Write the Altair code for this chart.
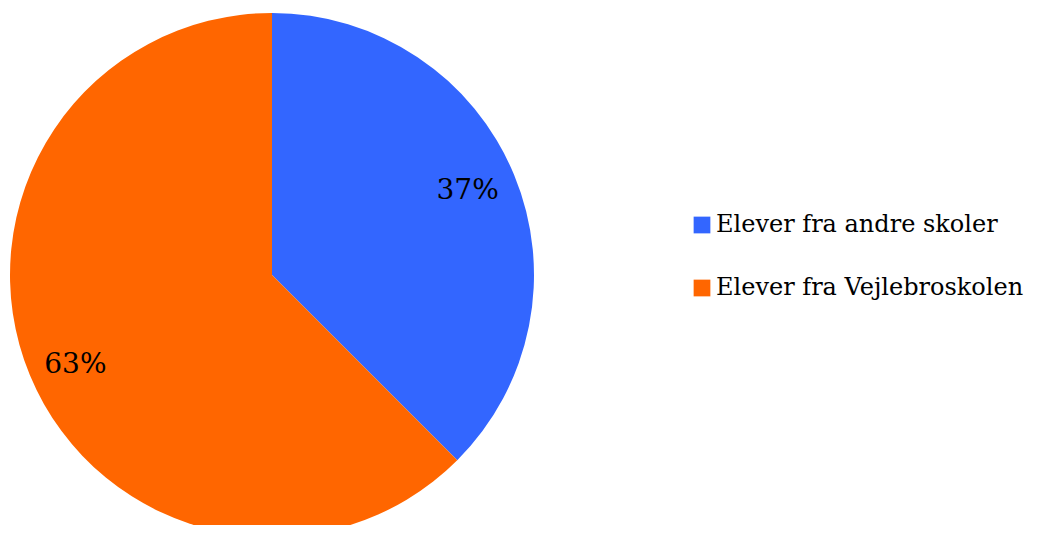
import altair as alt
import pandas as pd

categories = ["Elever fra andre skoler", "Elever fra Vejlebroskolen"]
values = [37.5, 62.5]
labels = ["37%", "63%"]
colors = ["#3366FF", "#FF6600"]

df = pd.DataFrame({"kategori": categories, "andel": values, "label": labels, "idx": [0, 1]})
total = float(sum(values))

cx, cy = 264, 267

arcs = alt.Chart(df).mark_arc(outerRadius=262, stroke=None).encode(
    theta=alt.Theta("andel:Q", stack=True),
    order=alt.Order("idx:Q"),
    x=alt.value(cx),
    y=alt.value(cy),
    color=alt.Color(
        "kategori:N",
        scale=alt.Scale(domain=categories, range=colors),
        legend=alt.Legend(
            title=None,
            orient="none",
            legendX=682,
            legendY=205,
            symbolType="square",
            symbolSize=280,
            symbolStrokeWidth=0,
            symbolOpacity=1,
            labelFont="DejaVu Serif",
            labelFontSize=24,
            labelColor="#000000",
            labelOffset=2,
            rowPadding=39,
            padding=0,
            labelLimit=400,
        ),
    ),
)

text_base = (
    alt.Chart(df)
    .transform_window(cum="sum(andel)", sort=[alt.SortField("idx")])
    .transform_calculate(mid="datum.cum - datum.andel / 2")
    .encode(
        theta=alt.Theta("mid:Q", stack=None, scale=alt.Scale(domain=[0, total], range=[0, 6.283185307179586])),
        x=alt.value(cx),
        y=alt.value(cy),
        text="label:N",
    )
)

text_style = dict(radius=215, font="DejaVu Serif", fontSize=28, color="#000000")
text1 = text_base.mark_text(dx=-3, dy=-2, **text_style).transform_filter(alt.datum.idx == 0)
text2 = text_base.mark_text(dx=2, dy=8, **text_style).transform_filter(alt.datum.idx == 1)

chart = (
    alt.layer(arcs, text1, text2)
    .resolve_scale(theta="independent")
    .properties(width=1021, height=517, autosize=alt.AutoSizeParams(type="none"), padding=0)
    .configure_view(stroke=None)
)

chart.save("out.html", embed_options={"renderer": "svg", "actions": False})
